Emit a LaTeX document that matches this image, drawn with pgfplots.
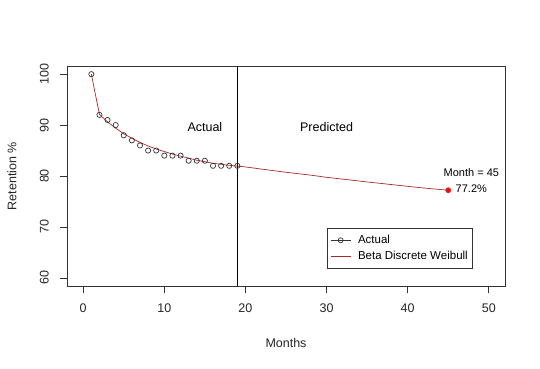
\documentclass[border=0pt]{standalone}
\usepackage{pgfplots}
\pgfplotsset{compat=1.18}
\usepackage{fontspec}
\setmainfont{Liberation Sans}
\definecolor{fitred}{RGB}{165,42,42}
\definecolor{ptred}{RGB}{225,20,20}
\begin{document}
\begin{tikzpicture}
\begin{axis}[
  scale only axis,
  width=438bp, height=220bp,
  xmin=-2, xmax=52, ymin=58.4, ymax=101.6,
  xtick={0,10,...,50}, ytick={60,70,...,100},
  xtick pos=bottom, ytick pos=left,
  tick align=outside, major tick length=7bp,
  axis line style={line width=0.7bp, black!80},
  tick style={line width=0.7bp, black!80},
  /pgf/number format/assume math mode=true,
  font=\fontsize{12.5bp}{15bp}\selectfont,
  ticklabel style={font=\fontsize{12.5bp}{15bp}\selectfont, text=black!85},
  xticklabel style={anchor=north, inner sep=0pt, yshift=-11bp},
  yticklabel style={anchor=south, inner sep=0pt, xshift=-11bp, rotate=90},
  xlabel={Months},
  ylabel={Retention \%},
  xlabel style={at={(axis description cs:0.5,-0.2591)}, anchor=center, text=black!85},
  ylabel style={at={(axis description cs:-0.1256,0.5)}, anchor=center, text=black!85},
  clip=false,
  legend cell align=left,
  legend image code/.code={\draw[mark repeat=2,mark phase=2,#1] plot coordinates {(0bp,0bp) (10bp,0bp) (20bp,0bp)}; \path (25bp,0bp);},
  legend style={at={(rel axis cs:0.5936,0.2636)}, anchor=north west, draw=black!80, line width=0.7bp,
    font=\fontsize{11.5bp}{13bp}\selectfont, inner xsep=3bp, inner ysep=5bp, row sep=2bp},
]
% legend image for Actual
\addlegendimage{black!80, line width=0.7bp, mark=o, mark size=2.5bp, mark options={line width=0.7bp}}
\addlegendentry{Actual}
% fitted / predicted curve
\addplot[fitred, line width=0.7bp] coordinates {
(1,100) (2,92.1) (3,90.6) (4,89.4) (5,88.3) (6,87.4) (7,86.6) (8,85.9) (9,85.3) (10,84.8)
(11,84.3) (12,83.9) (13,83.5) (14,83.1) (15,82.8) (16,82.5) (17,82.3) (18,82.1) (19,81.95)
(20,81.78) (22,81.35) (25,80.73) (28,80.18) (30,79.74) (33,79.2) (35,78.83) (38,78.32) (40,77.97) (42,77.64) (45,77.2)
};
\addlegendentry{Beta Discrete Weibull}
% actual points
\addplot[only marks, mark=o, mark size=2.6bp, black!80, mark options={line width=0.7bp}, forget plot] coordinates {
(1,100) (2,92) (3,91) (4,90) (5,88) (6,87) (7,86) (8,85) (9,85) (10,84)
(11,84) (12,84) (13,83) (14,83) (15,83) (16,82) (17,82) (18,82) (19,82)
};
% vertical divider at month 19
\addplot[black, line width=0.7bp, forget plot] coordinates {(19,58.4) (19,101.6)};
% predicted endpoint
\addplot[only marks, mark=*, mark size=2.6bp, ptred, forget plot] coordinates {(45,77.2)};
\node[font=\fontsize{12.5bp}{15bp}\selectfont] at (axis cs:15,89.7) {Actual};
\node[font=\fontsize{12.5bp}{15bp}\selectfont] at (axis cs:30,89.7) {Predicted};
\node[font=\fontsize{11bp}{13bp}\selectfont] at (axis cs:47.85,80.65) {Month = 45};
\node[font=\fontsize{11bp}{13bp}\selectfont] at (axis cs:47.85,77.55) {77.2\%};
\end{axis}
\path (current axis.south west) ++(-67bp,-83bp) rectangle ++(540bp,369bp);
\end{tikzpicture}
\end{document}
